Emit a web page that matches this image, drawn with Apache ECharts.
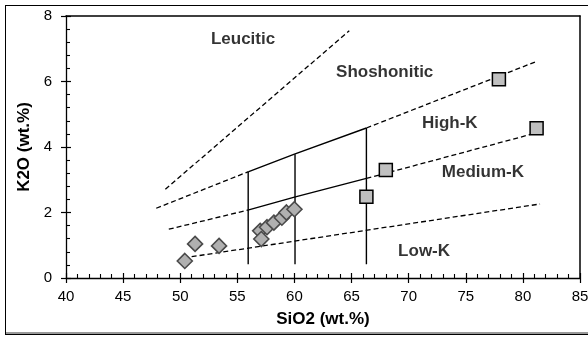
<!DOCTYPE html>
<html><head><meta charset="utf-8">
<script src="https://cdn.jsdelivr.net/npm/echarts@6/dist/echarts.min.js"></script>
<style>
html,body{margin:0;padding:0;background:#fff;overflow:hidden}
#c{width:588px;height:338px;position:absolute;left:0;top:0}
#frame{position:absolute;left:5px;top:5px;width:620px;height:330px;border-left:1.5px solid #000;border-top:1.5px solid #000;border-bottom:1.2px solid #000;pointer-events:none;box-sizing:border-box}
#frame2{position:absolute;left:6px;top:332px;width:620px;height:2px;background:#999;pointer-events:none}
</style>
</head><body><div id="c"></div><div id="frame"></div><div id="frame2"></div>
<script>
// Sample points
const diamondX = [50.4, 51.3, 53.4, 57.0, 57.1, 57.6, 58.2, 58.9, 59.3, 60.0];
const diamondY = [0.52, 1.04, 0.98, 1.44, 1.19, 1.55, 1.69, 1.84, 2.00, 2.10];
const squareX = [66.3, 68.0, 77.9, 81.2];
const squareY = [2.48, 3.30, 6.07, 4.57];

// Boundary lines [x, y]
const leuciticLine = [[48.7, 2.71], [64.8, 7.55]];
const shoshDashA = [[47.9, 2.13], [56.0, 3.25]];
const shoshSolid = [[56.0, 3.25], [60.0, 3.78], [66.3, 4.58]];
const shoshDashB = [[66.3, 4.58], [81.1, 6.60]];
const highKDashA = [[49.0, 1.49], [56.0, 2.08]];
const highKSolid = [[56.0, 2.08], [60.0, 2.47], [66.3, 3.04]];
const highKDashB = [[66.3, 3.04], [81.6, 4.47]];
const lowKLine = [[51.0, 0.65], [81.5, 2.26]];
const vert56 = [[55.95, 0.42], [55.95, 3.25]];
const vert60 = [[60.05, 0.42], [60.05, 3.78]];
const vert66 = [[66.3, 0.42], [66.3, 4.58]];

// Field labels
const fieldNames = ['Leucitic', 'Shoshonitic', 'High-K', 'Medium-K', 'Low-K'];
const fieldX = [55.5, 67.9, 73.6, 76.5, 71.35];
const fieldY = [7.30, 6.29, 4.73, 3.24, 0.82];

const xTitle = 'SiO2 (wt.%)';
const yTitle = 'K2O (wt.%)';

const FONT = 'Liberation Sans';
const chart = echarts.init(document.getElementById('c'), null, {renderer: 'canvas'});

function lineSeries(data, dashed) {
  return {
    type: 'line', data: data, symbol: 'none', silent: true, animation: false,
    xAxisIndex: 0, yAxisIndex: 0,
    lineStyle: {color: '#000', width: dashed ? 1.3 : 1.4, type: dashed ? [5, 3] : 'solid'},
    z: 3
  };
}

const option = {
  animation: false,
  grid: {left: 66, right: 8, top: 16, bottom: 60, containLabel: false, outerBoundsMode: 'none'},
  xAxis: [{
    type: 'value', min: 40, max: 85, interval: 5,
    name: xTitle, nameLocation: 'middle', nameGap: 33,
    nameTextStyle: {fontFamily: FONT, fontWeight: 'bold', fontSize: 17, color: '#000'},
    axisLine: {show: true, onZero: false, lineStyle: {color: '#000', width: 1.3}},
    axisTick: {show: true, inside: false, length: 5, lineStyle: {color: '#000', width: 1.2}},
    axisLabel: {fontFamily: FONT, fontSize: 15, color: '#000', margin: 11},
    splitLine: {show: false}
  }, {
    type: 'value', min: 40, max: 85, interval: 5, position: 'bottom',
    axisLine: {show: false, onZero: false},
    axisTick: {show: true, inside: true, length: 5, lineStyle: {color: '#000', width: 1.2}},
    minorTick: {show: true, splitNumber: 5, length: 4, lineStyle: {color: '#000', width: 1.1}},
    axisLabel: {show: false}, splitLine: {show: false}
  }, {
    type: 'value', min: 40, max: 85, position: 'top',
    axisLine: {show: true, onZero: false, lineStyle: {color: '#000', width: 1.5}},
    axisTick: {show: false}, axisLabel: {show: false}, splitLine: {show: false}
  }],
  yAxis: [{
    type: 'value', min: 0, max: 8, interval: 2,
    name: yTitle, nameLocation: 'middle', nameGap: 30,
    nameTextStyle: {fontFamily: FONT, fontWeight: 'bold', fontSize: 17, color: '#000'},
    axisLine: {show: true, onZero: false, lineStyle: {color: '#000', width: 1.3}},
    axisTick: {show: true, inside: false, length: 5, lineStyle: {color: '#000', width: 1.2}},
    axisLabel: {fontFamily: FONT, fontSize: 15, color: '#000', margin: 14},
    splitLine: {show: false}
  }, {
    type: 'value', min: 0, max: 8, interval: 2, position: 'left',
    axisLine: {show: false, onZero: false},
    axisTick: {show: true, inside: true, length: 5, lineStyle: {color: '#000', width: 1.2}},
    minorTick: {show: true, splitNumber: 5, length: 4, lineStyle: {color: '#000', width: 1.1}},
    axisLabel: {show: false}, splitLine: {show: false}
  }, {
    type: 'value', min: 0, max: 8, position: 'right',
    axisLine: {show: true, onZero: false, lineStyle: {color: '#000', width: 1.5}},
    axisTick: {show: false}, axisLabel: {show: false}, splitLine: {show: false}
  }],
  series: [
    lineSeries(leuciticLine, true),
    lineSeries(shoshDashA, true),
    lineSeries(shoshSolid, false),
    lineSeries(shoshDashB, true),
    lineSeries(highKDashA, true),
    lineSeries(highKSolid, false),
    lineSeries(highKDashB, true),
    lineSeries(lowKLine, true),
    lineSeries(vert56, false),
    lineSeries(vert60, false),
    lineSeries(vert66, false),
    {
      type: 'scatter', symbol: 'diamond', symbolSize: 15, z: 5,
      data: diamondX.map((x, i) => [x, diamondY[i]]),
      itemStyle: {color: '#b0b0b0', borderColor: '#4a4a4a', borderWidth: 1.6, opacity: 1}
    },
    {
      type: 'scatter', symbol: 'rect', symbolSize: 13, z: 5,
      data: squareX.map((x, i) => [x, squareY[i]]),
      itemStyle: {color: '#c0c0c0', borderColor: '#000', borderWidth: 1.5, opacity: 1}
    },
    {
      type: 'scatter', symbol: 'circle', symbolSize: 1, z: 6, silent: true,
      itemStyle: {color: 'rgba(0,0,0,0)'},
      data: fieldNames.map((n, i) => ({name: n, value: [fieldX[i], fieldY[i]]})),
      label: {show: true, position: 'inside', formatter: p => p.name,
        fontFamily: FONT, fontWeight: 'bold', fontSize: 17, color: '#000'}
    }
  ]
};
chart.setOption(option);
</script>
</body></html>
